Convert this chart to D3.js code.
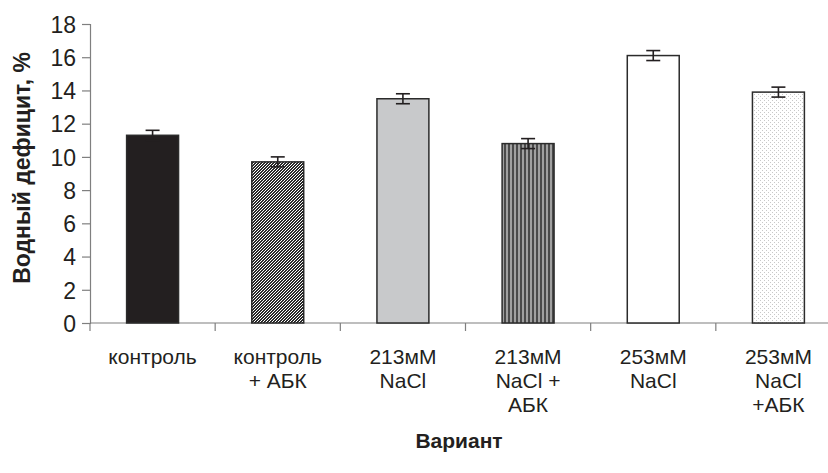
<!DOCTYPE html>
<html><head><meta charset="utf-8">
<script src="https://cdn.jsdelivr.net/npm/d3@7"></script>
<style>body{margin:0;background:#fff}svg{display:block}text{font-family:"Liberation Sans",Arial,sans-serif;fill:#231f20}</style>
</head><body>
<svg id="c" width="828" height="473"></svg>
<script>
const categories = [["контроль"],["контроль","+ АБК"],["213мМ","NaCl"],["213мМ","NaCl +","АБК"],["253мМ","NaCl"],["253мМ","NaCl","+АБК"]];
const values = [11.3, 9.7, 13.5, 10.8, 16.1, 13.9];
const errors = [0.3, 0.3, 0.3, 0.3, 0.3, 0.3];
const yTicks = [0,2,4,6,8,10,12,14,16,18];
const fills = ["#231f20","url(#hatch)","#c8c9cb","url(#vstripe)","#ffffff","url(#dots)"];

const svg = d3.select("#c");
const defs = svg.append("defs");
const ph = defs.append("pattern").attr("id","hatch").attr("patternUnits","userSpaceOnUse").attr("width",3).attr("height",3);
ph.append("rect").attr("width",3).attr("height",3).attr("fill","#ffffff");
[[0,1],[1,0],[1,2],[2,1],[2,2],[0,0]].forEach(([px,py])=>ph.append("rect").attr("x",px).attr("y",py).attr("width",1).attr("height",1).attr("fill","#2a2a2a"));
const pv = defs.append("pattern").attr("id","vstripe").attr("patternUnits","userSpaceOnUse").attr("width",4).attr("height",4);
pv.append("rect").attr("width",4).attr("height",4).attr("fill","#a0a0a0");
pv.append("rect").attr("width",2).attr("height",4).attr("fill","#4a4a4a");
const pd = defs.append("pattern").attr("id","dots").attr("patternUnits","userSpaceOnUse").attr("width",4).attr("height",4);
pd.append("rect").attr("width",4).attr("height",4).attr("fill","#ffffff");
pd.append("rect").attr("width",1).attr("height",1).attr("fill","#c8c8c8");
pd.append("rect").attr("x",2).attr("y",2).attr("width",1).attr("height",1).attr("fill","#c8c8c8");

const x0 = 90, x1 = 841, y0 = 323, y1 = 24;
const x = d3.scaleBand().domain(d3.range(categories.length)).range([x0,x1]).padding(0);
const y = d3.scaleLinear().domain([0,18]).range([y0,y1]);
const bw = x.bandwidth()*0.415;

// y axis
const ya = svg.append("g").attr("transform",`translate(${x0},0)`)
  .call(d3.axisLeft(y).tickValues(yTicks).tickSize(8).tickPadding(6));
ya.select(".domain").attr("stroke","#7f7f7f").attr("stroke-width",1.2);
ya.selectAll(".tick line").attr("stroke","#7f7f7f").attr("stroke-width",1.2);
ya.selectAll(".tick text").attr("font-size",23).attr("font-family","Liberation Sans, Arial").attr("fill","#231f20").attr("dy","0.36em");

// x axis line and ticks
svg.append("line").attr("x1",x0).attr("x2",828).attr("y1",y0).attr("y2",y0).attr("stroke","#7f7f7f").attr("stroke-width",1.2);
svg.selectAll(".xt").data(d3.range(categories.length+1)).join("line")
  .attr("x1",d=>x0+d*x.step()).attr("x2",d=>x0+d*x.step())
  .attr("y1",y0).attr("y2",y0+8).attr("stroke","#7f7f7f").attr("stroke-width",1.2);

// bars
svg.selectAll(".bar").data(values).join("rect")
  .attr("x",(d,i)=>x(i)+x.bandwidth()/2-bw/2).attr("width",bw)
  .attr("y",d=>y(d)).attr("height",d=>y0-y(d))
  .attr("fill",(d,i)=>fills[i]).attr("stroke","#2b2b2b").attr("stroke-width",1.5);

// error bars
const eg = svg.selectAll(".err").data(values).join("g");
eg.append("line").attr("x1",(d,i)=>x(i)+x.bandwidth()/2).attr("x2",(d,i)=>x(i)+x.bandwidth()/2)
  .attr("y1",(d,i)=>y(d+errors[i])).attr("y2",(d,i)=>y(d-errors[i])).attr("stroke","#231f20").attr("stroke-width",1.6);
eg.append("line").attr("x1",(d,i)=>x(i)+x.bandwidth()/2-7).attr("x2",(d,i)=>x(i)+x.bandwidth()/2+7)
  .attr("y1",(d,i)=>y(d+errors[i])).attr("y2",(d,i)=>y(d+errors[i])).attr("stroke","#231f20").attr("stroke-width",1.6);
eg.append("line").attr("x1",(d,i)=>x(i)+x.bandwidth()/2-7).attr("x2",(d,i)=>x(i)+x.bandwidth()/2+7)
  .attr("y1",(d,i)=>y(d-errors[i])).attr("y2",(d,i)=>y(d-errors[i])).attr("stroke","#231f20").attr("stroke-width",1.6);

// category labels
categories.forEach((lines,i)=>{
  const t = svg.append("text").attr("text-anchor","middle").attr("font-size",21)
    .attr("x",x(i)+x.bandwidth()/2).attr("y",364);
  lines.forEach((l,j)=>t.append("tspan").attr("x",x(i)+x.bandwidth()/2).attr("y",364+j*24).text(l));
});

// axis titles
svg.append("text").attr("x",459).attr("y",448).attr("text-anchor","middle").attr("font-size",21).attr("font-weight","bold").text("Вариант");
svg.append("text").attr("transform","translate(30,168) rotate(-90)").attr("text-anchor","middle").attr("font-size",23).attr("font-weight","bold").text("Водный дефицит, %");
</script>
</body></html>
